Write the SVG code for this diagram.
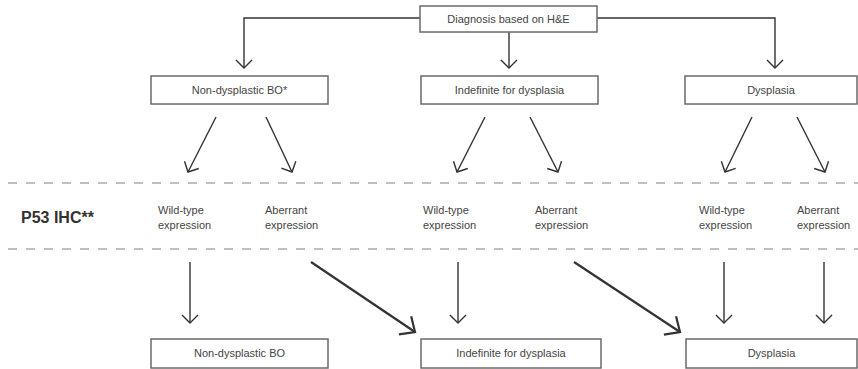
<svg xmlns="http://www.w3.org/2000/svg" width="858" height="369" viewBox="0 0 858 369">
<defs>
<style>
.box{fill:#fff;stroke:#6a6a6a;stroke-width:1.5}
.t{font-family:"Liberation Sans",Arial,sans-serif;font-size:11px;fill:#444}
.c{text-anchor:middle}
.ln{fill:none;stroke:#333;stroke-width:1.4}
.bold{stroke-width:2.2}
.dash{stroke:#aaa;stroke-width:1.5;stroke-dasharray:9 9}
</style>
<marker id="ah" markerUnits="userSpaceOnUse" markerWidth="20" markerHeight="20" viewBox="-10 -10 20 20" refX="0" refY="0" orient="auto">
<path d="M-8,-8 L0,0 L-8,8" fill="none" stroke="#333" stroke-width="1.4"/>
</marker>
<marker id="ah2" markerUnits="userSpaceOnUse" markerWidth="30" markerHeight="30" viewBox="-15 -15 30 30" refX="0" refY="0" orient="auto">
<path d="M-12,-11 L0,0 L-12,11" fill="none" stroke="#333" stroke-width="2.2"/>
</marker>
</defs>
<rect width="858" height="369" fill="#fff"/>
<g id="separators">
<line class="dash" x1="8" y1="183" x2="858" y2="183"/>
<line class="dash" x1="8" y1="249" x2="858" y2="249"/>
</g>
<g id="connectors">
<path class="ln" d="M420,18 H244 V68" marker-end="url(#ah)"/>
<path class="ln" d="M509,32 V68" marker-end="url(#ah)"/>
<path class="ln" d="M597,18 H775 V68" marker-end="url(#ah)"/>
<line class="ln" x1="216" y1="117" x2="188" y2="172" marker-end="url(#ah)"/>
<line class="ln" x1="266" y1="117" x2="292" y2="172" marker-end="url(#ah)"/>
<line class="ln" x1="485" y1="117" x2="457" y2="172" marker-end="url(#ah)"/>
<line class="ln" x1="530" y1="117" x2="558" y2="172" marker-end="url(#ah)"/>
<line class="ln" x1="752" y1="117" x2="725" y2="172" marker-end="url(#ah)"/>
<line class="ln" x1="797" y1="117" x2="825" y2="172" marker-end="url(#ah)"/>
<line class="ln" x1="190" y1="262" x2="190" y2="323" marker-end="url(#ah)"/>
<line class="ln bold" x1="311" y1="262" x2="415" y2="332" marker-end="url(#ah2)"/>
<line class="ln" x1="458" y1="262" x2="458" y2="323" marker-end="url(#ah)"/>
<line class="ln bold" x1="574" y1="262" x2="680" y2="332" marker-end="url(#ah2)"/>
<line class="ln" x1="724" y1="262" x2="724" y2="323" marker-end="url(#ah)"/>
<line class="ln" x1="824" y1="262" x2="824" y2="323" marker-end="url(#ah)"/>
</g>
<g id="n-he"><rect class="box" x="420" y="6" width="177" height="26"/><text class="t c" x="508.5" y="23">Diagnosis based on H&amp;E</text></g>
<g id="n-ndbo"><rect class="box" x="151" y="76" width="177" height="28"/><text class="t c" x="239.5" y="94">Non-dysplastic BO*</text></g>
<g id="n-ind"><rect class="box" x="421" y="76" width="177" height="28"/><text class="t c" x="509.5" y="94">Indefinite for dysplasia</text></g>
<g id="n-dys"><rect class="box" x="685" y="76" width="172" height="28"/><text class="t c" x="771" y="94">Dysplasia</text></g>
<g id="label-p53"><text x="21" y="223" font-family="Liberation Sans,Arial,sans-serif" font-size="16" font-weight="bold" fill="#333">P53 IHC**</text></g>
<g id="e1"><text class="t" x="158" y="214">Wild-type</text><text class="t" x="158" y="229">expression</text></g>
<g id="e2"><text class="t" x="265" y="214">Aberrant</text><text class="t" x="265" y="229">expression</text></g>
<g id="e3"><text class="t" x="423" y="214">Wild-type</text><text class="t" x="423" y="229">expression</text></g>
<g id="e4"><text class="t" x="535" y="214">Aberrant</text><text class="t" x="535" y="229">expression</text></g>
<g id="e5"><text class="t" x="699" y="214">Wild-type</text><text class="t" x="699" y="229">expression</text></g>
<g id="e6"><text class="t" x="797" y="214">Aberrant</text><text class="t" x="797" y="229">expression</text></g>
<g id="b-ndbo"><rect class="box" x="151" y="339" width="177" height="29"/><text class="t c" x="239.5" y="357">Non-dysplastic BO</text></g>
<g id="b-ind"><rect class="box" x="421" y="339" width="180" height="29"/><text class="t c" x="511" y="357">Indefinite for dysplasia</text></g>
<g id="b-dys"><rect class="box" x="686" y="339" width="171" height="29"/><text class="t c" x="771.5" y="357">Dysplasia</text></g>
</svg>
